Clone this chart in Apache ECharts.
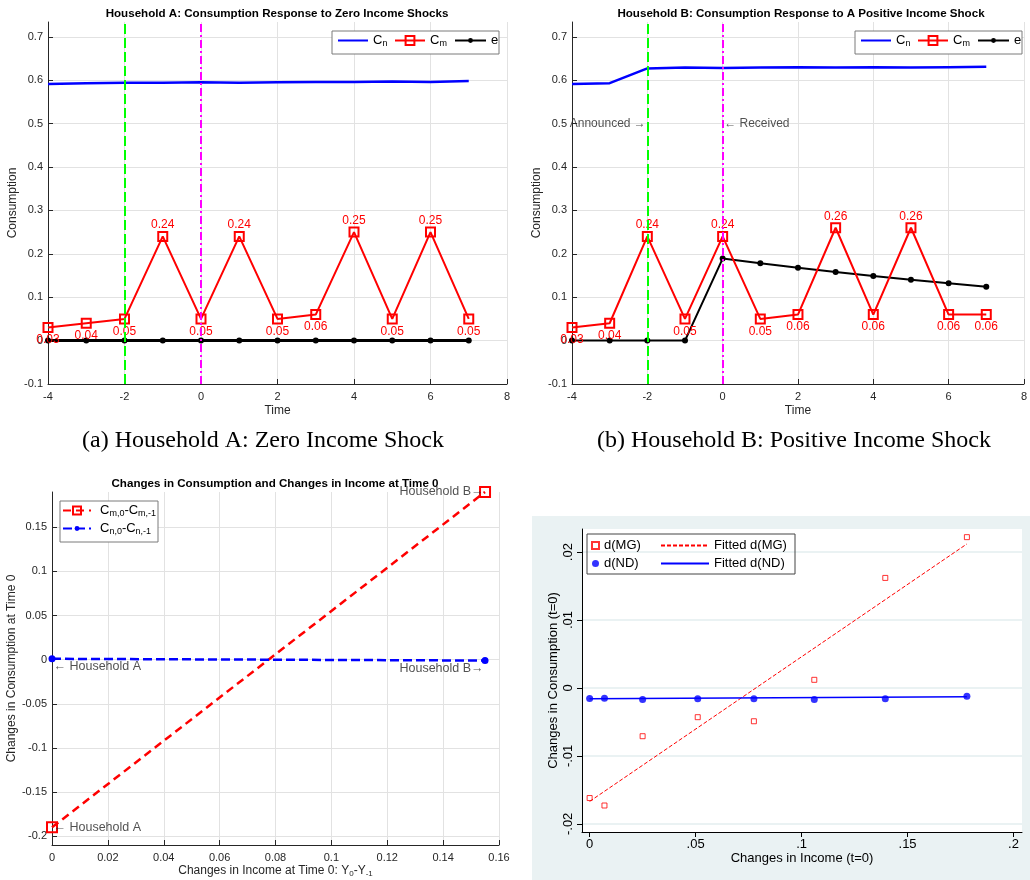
<!DOCTYPE html>
<html><head><meta charset="utf-8">
<script src="https://cdn.jsdelivr.net/npm/echarts@6/dist/echarts.min.js"></script>
<style>html,body{margin:0;padding:0;background:#fff}#c{width:1030px;height:880px}</style>
</head><body><div id="c"></div>
<script>
// ---------- data ----------
const time = [-4,-3,-2,-1,0,1,2,3,4,5,6,7];
const aCn = [0.591,0.593,0.594,0.594,0.595,0.594,0.595,0.596,0.596,0.597,0.596,0.598];
const aCm = [0.03,0.04,0.05,0.24,0.05,0.24,0.05,0.06,0.25,0.05,0.25,0.05];
const aE  = [0,0,0,0,0,0,0,0,0,0,0,0];
const bCn = [0.591,0.593,0.627,0.629,0.628,0.629,0.630,0.629,0.630,0.629,0.630,0.631];
const bCm = [0.03,0.04,0.24,0.05,0.24,0.05,0.06,0.26,0.06,0.26,0.06,0.06];
const bE  = [0,0,0,0,0.189,0.178,0.168,0.158,0.149,0.140,0.132,0.124];
const eventX = [-2, 0];
const abXTicks = [-4,-2,0,2,4,6,8];
const abYTicks = [-0.1,0,0.1,0.2,0.3,0.4,0.5,0.6,0.7];
const bNotes = [['Announced \u2192', -2, 0.5, 'left'], ['\u2190 Received', 0, 0.5, 'right']];

const cIncome = [0, 0.155];
const cDm = [-0.19, 0.19];
const cDn = [0.001, -0.001];
const cXTicks = [0,0.02,0.04,0.06,0.08,0.1,0.12,0.14,0.16];
const cYTicks = [-0.2,-0.15,-0.1,-0.05,0,0.05,0.1,0.15];
const cNotes = [['Household B\u2192', 0.155, 0.19, 'left'], ['\u2190 Household A', 0, -0.008, 'right'],
                ['Household B\u2192', 0.155, -0.0105, 'left'], ['\u2190 Household A', 0, -0.19, 'right']];

const dIncome = [0,0.007,0.025,0.051,0.0775,0.106,0.1395,0.178];
const dMG = [-0.0162,-0.0173,-0.0071,-0.0043,-0.0049,0.0012,0.0162,0.0222];
const dND = [-0.00155,-0.0015,-0.0017,-0.0016,-0.0016,-0.0017,-0.0016,-0.0012];
const dFitX = [0, 0.178];
const dFitMG = [-0.0167, 0.0212];
const dFitND = [-0.0016, -0.0013];
const dXTicks = [0,0.05,0.1,0.15,0.2];
const dYTicks = [-0.02,-0.01,0,0.01,0.02];

// ---------- helpers ----------
const FONT = 'Liberation Sans, Arial, Helvetica, sans-serif';
const SERIF = 'Liberation Serif, Times New Roman, serif';
const INK = '#262626';
const subRich = {
  t: {fontSize: 13, color: '#000', fontFamily: FONT},
  s: {fontSize: 9, color: '#000', fontFamily: FONT, padding: [7, 0, 0, 0]}
};
function mAxis(gi, min, max, ticks, name, gap, isY) {
  return {
    type: 'value', gridIndex: gi, min: min, max: max,
    axisLine: {show: true, onZero: false, lineStyle: {color: INK, width: 1}},
    axisTick: {show: true, inside: true, length: 5, customValues: ticks, lineStyle: {color: INK}},
    axisLabel: {customValues: ticks, fontSize: 11, color: INK, fontFamily: FONT, margin: isY ? 5 : 7},
    splitLine: {show: true, lineStyle: {color: '#e2e2e2', width: 1}},
    name: name, nameLocation: 'middle', nameGap: gap,
    nameTextStyle: {fontSize: 12, color: INK, fontFamily: FONT, rich: {
      t: {fontSize: 12, color: INK, fontFamily: FONT},
      s: {fontSize: 8, color: INK, fontFamily: FONT, padding: [6, 0, 0, 0]}}}
  };
}
function stataFmt(v) {
  if (Math.abs(v) < 1e-12) return '0';
  let s = String(Math.round(v * 1000) / 1000);
  return s.replace('0.', '.');
}
function sAxis(gi, min, max, ticks, name, gap, isY) {
  return {
    type: 'value', gridIndex: gi, min: min, max: max,
    axisLine: {show: true, onZero: false, lineStyle: {color: '#000', width: 1}},
    axisTick: {show: true, inside: false, length: 5, customValues: ticks, lineStyle: {color: '#000'}},
    axisLabel: {customValues: ticks, fontSize: 13, color: '#000', fontFamily: FONT,
      margin: isY ? 7 : 6, rotate: isY ? 90 : 0, formatter: stataFmt},
    splitLine: {show: !!isY, lineStyle: {color: '#eaf2f3', width: 2}},
    name: name, nameLocation: 'middle', nameGap: gap,
    nameTextStyle: {fontSize: 13, color: '#000', fontFamily: FONT}
  };
}
const xy = (xs, ys) => xs.map((x, i) => [x, ys[i]]);
function noteSeries(gi, notes, size) {
  return {
    type: 'scatter', xAxisIndex: gi, yAxisIndex: gi, symbol: 'circle', symbolSize: 1,
    itemStyle: {color: 'rgba(0,0,0,0)'}, silent: true, z: 6,
    data: notes.map(n => ({name: n[0], value: [n[1], n[2]],
      label: {show: true, position: n[3], distance: 1, formatter: '{b}', color: INK,
              fontSize: size, fontFamily: FONT}}))
  };
}
function abSeries(p, gi, cn, cm, e, eW) {
  return [
    {name: p + 'Cn', type: 'line', xAxisIndex: gi, yAxisIndex: gi, data: xy(time, cn), symbol: 'none',
     lineStyle: {color: '#0000ff', width: 2.5}, itemStyle: {color: '#0000ff'}, z: 3},
    {name: p + 'Cm', type: 'line', xAxisIndex: gi, yAxisIndex: gi, symbol: 'rect', symbolSize: 9,
     data: time.map((t, i) => ({value: [t, cm[i]],
       label: {position: cm[i] > 0.15 ? 'top' : 'bottom', distance: cm[i] > 0.15 ? 0 : 1}})),
     lineStyle: {color: '#ff0000', width: 2},
     itemStyle: {color: 'rgba(255,255,255,0)', borderColor: '#ff0000', borderWidth: 2},
     label: {show: true, color: '#ff0000', fontSize: 12, fontFamily: FONT,
             formatter: q => q.value[1].toFixed(2)}, z: 4},
    {name: p + 'e', type: 'line', xAxisIndex: gi, yAxisIndex: gi, data: xy(time, e), symbol: 'circle',
     symbolSize: 6, lineStyle: {color: '#000', width: eW}, itemStyle: {color: '#000'}, z: 3,
     markLine: {silent: true, symbol: ['none', 'none'], label: {show: false}, animation: false,
       data: [{xAxis: eventX[0], lineStyle: {color: '#00ff00', type: [10, 4], width: 2}},
              {xAxis: eventX[1], lineStyle: {color: '#ff00ff', type: [8, 3, 2, 3], width: 2}}]}}
  ];
}
const legFmt = {
  Cn: '{t|C}{s|n}', Cm: '{t|C}{s|m}', e: '{t|e}{s| }',
  cdm: '{t|C}{s|m,0}{t|-C}{s|m,-1}', cdn: '{t|C}{s|n,0}{t|-C}{s|n,-1}'
};
function legItem(name, key, left, top, w, h, hideSym, textPad) {
  return {left: left, top: top, orient: 'horizontal', padding: 0, selectedMode: false, z: 20,
    itemWidth: w, itemHeight: h,
    data: [hideSym ? {name: name, itemStyle: {opacity: 0}} : name],
    formatter: () => legFmt[key],
    textStyle: {rich: subRich, padding: textPad || 0}};
}
function abLegends(p, dx) {
  return [
    legItem(p + 'Cn', 'Cn', 337 + dx, 34, 30, 10, true),
    legItem(p + 'Cm', 'Cm', 394 + dx, 34, 30, 11, false),
    legItem(p + 'e', 'e', 454 + dx, 34, 31, 6, false)
  ];
}
const titleStyle = {fontSize: 11.6, fontWeight: 'bold', color: '#000', fontFamily: FONT};

const option = {
  animation: false,
  backgroundColor: '#fff',
  graphic: [
    {type: 'rect', shape: {x: 532, y: 516, width: 498, height: 364}, style: {fill: '#eaf2f3'}, z: -10, silent: true},
    {type: 'rect', shape: {x: 587, y: 534, width: 208, height: 40}, style: {fill: null, stroke: '#444', lineWidth: 1}, z: 10, silent: true},
    {type: 'rect', shape: {x: 332, y: 31, width: 167, height: 23}, style: {fill: '#fff', stroke: '#7a7a7a', lineWidth: 1}, z: 10, silent: true},
    {type: 'rect', shape: {x: 855, y: 31, width: 167, height: 23}, style: {fill: '#fff', stroke: '#7a7a7a', lineWidth: 1}, z: 10, silent: true},
    {type: 'rect', shape: {x: 60, y: 501, width: 98, height: 41}, style: {fill: '#fff', stroke: '#7a7a7a', lineWidth: 1}, z: 10, silent: true},
    {type: 'text', x: 263, y: 441, z: 5, silent: true,
     style: {text: '(a) Household A: Zero Income Shock', fill: '#000', font: '24px ' + SERIF, textAlign: 'center', textVerticalAlign: 'middle'}},
    {type: 'text', x: 794, y: 441, z: 5, silent: true,
     style: {text: '(b) Household B: Positive Income Shock', fill: '#000', font: '24px ' + SERIF, textAlign: 'center', textVerticalAlign: 'middle'}}
  ],
  title: [
    {text: 'Household A: Consumption Response to Zero Income Shocks', left: 277, top: 8, textAlign: 'center', padding: 0, textStyle: titleStyle},
    {text: 'Household B: Consumption Response to A Positive Income Shock', left: 801, top: 8, textAlign: 'center', padding: 0, textStyle: titleStyle},
    {text: 'Changes in Consumption and Changes in Income at Time 0', left: 275, top: 478, textAlign: 'center', padding: 0, textStyle: titleStyle}
  ],
  legend: [].concat(
    abLegends('a', 0),
    abLegends('b', 523),
    [
      legItem('cdm', 'cdm', 62, 504, 28, 10, false, [0, 0, 0, 4]),
      legItem('cdn', 'cdn', 62, 522, 28, 6, false, [0, 0, 0, 4]),
      {left: 591, top: 539, orient: 'vertical', data: ['d(MG)', 'd(ND)'], itemWidth: 7, itemHeight: 7, itemGap: 5,
       padding: 0, selectedMode: false, z: 20, textStyle: {fontSize: 13, color: '#000', fontFamily: FONT}},
      {left: 660, top: 539, orient: 'vertical', z: 20,
       data: [{name: 'Fitted d(MG)', itemStyle: {opacity: 0}}, {name: 'Fitted d(ND)', itemStyle: {opacity: 0}}],
       itemWidth: 48, itemHeight: 7, itemGap: 5,
       padding: 0, selectedMode: false, textStyle: {fontSize: 13, color: '#000', fontFamily: FONT}}
    ]
  ),
  grid: [
    {left: 48, top: 22, width: 459, height: 362},
    {left: 572, top: 22, width: 458, height: 362},
    {left: 52, top: 492, width: 447, height: 353},
    {left: 582, top: 529, width: 440, height: 303, show: true, backgroundColor: '#fff', borderWidth: 0}
  ],
  xAxis: [
    mAxis(0, -4, 8, abXTicks, 'Time', 21, false),
    mAxis(1, -4, 8, abXTicks, 'Time', 21, false),
    mAxis(2, 0, 0.16, cXTicks, '{t|Changes in Income at Time 0: Y}{s|0}{t|-Y}{s|-1}', 19, false),
    sAxis(3, -0.0036, 0.204, dXTicks, 'Changes in Income (t=0)', 20, false)
  ],
  yAxis: [
    mAxis(0, -0.1, 0.734, abYTicks, 'Consumption', 29, true),
    mAxis(1, -0.1, 0.734, abYTicks, 'Consumption', 29, true),
    mAxis(2, -0.21, 0.19, cYTicks, 'Changes in Consumption at Time 0', 33, true),
    sAxis(3, -0.0212, 0.0234, dYTicks, 'Changes in Consumption (t=0)', 22, true)
  ],
  series: [].concat(
    abSeries('a', 0, aCn, aCm, aE, 3),
    abSeries('b', 1, bCn, bCm, bE, 2),
    [noteSeries(1, bNotes, 12)],
    [
      {name: 'cdm', type: 'line', xAxisIndex: 2, yAxisIndex: 2, data: xy(cIncome, cDm), symbol: 'rect', symbolSize: 10,
       lineStyle: {color: '#ff0000', width: 2.5, type: [8, 5]},
       itemStyle: {color: 'rgba(255,255,255,0)', borderColor: '#ff0000', borderWidth: 2}, z: 4},
      {name: 'cdn', type: 'line', xAxisIndex: 2, yAxisIndex: 2, data: xy(cIncome, cDn), symbol: 'circle', symbolSize: 7,
       lineStyle: {color: '#0000ff', width: 2.5, type: [9, 4]}, itemStyle: {color: '#0000ff'}, z: 4},
      noteSeries(2, cNotes, 12.5)
    ],
    [
      {name: 'Fitted d(MG)', type: 'line', xAxisIndex: 3, yAxisIndex: 3, data: xy(dFitX, dFitMG), symbol: 'none',
       lineStyle: {color: '#ff0000', width: 1, type: [4, 2]}, itemStyle: {color: '#ff0000'}, z: 3},
      {name: 'Fitted d(ND)', type: 'line', xAxisIndex: 3, yAxisIndex: 3, data: xy(dFitX, dFitND), symbol: 'none',
       lineStyle: {color: '#0000ff', width: 1.5}, itemStyle: {color: '#0000ff'}, z: 3},
      {name: 'd(MG)', type: 'scatter', xAxisIndex: 3, yAxisIndex: 3, data: xy(dIncome, dMG), symbol: 'rect', symbolSize: 5,
       itemStyle: {color: 'rgba(255,255,255,0)', borderColor: '#ff0000', borderWidth: 1}, z: 4},
      {name: 'd(ND)', type: 'scatter', xAxisIndex: 3, yAxisIndex: 3, data: xy(dIncome, dND), symbol: 'circle', symbolSize: 7,
       itemStyle: {color: '#0000ff'}, z: 4}
    ]
  )
};
const chart = echarts.init(document.getElementById('c'), null, {renderer: 'canvas'});
chart.setOption(option);
</script>
</body></html>
